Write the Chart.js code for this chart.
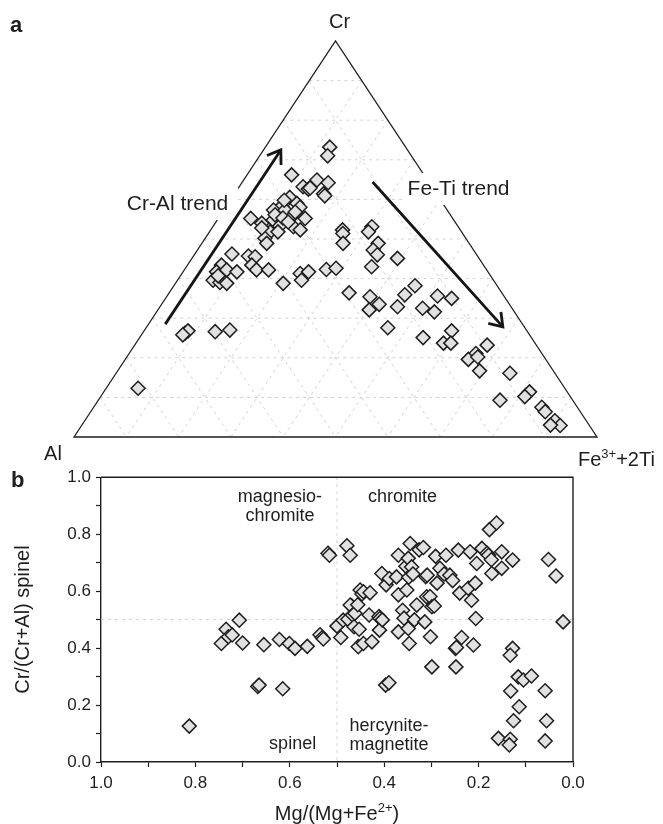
<!DOCTYPE html>
<html>
<head>
<meta charset="utf-8">
<script src="https://cdn.jsdelivr.net/npm/chart.js@4.4.1/dist/chart.umd.min.js"></script>
<style>
  html, body { margin: 0; padding: 0; background: #fff; }
  #wrap { position: relative; width: 663px; height: 824px; }
  #ternary { position: absolute; left: 0; top: 0; }
  #spinel { position: absolute; left: 0; top: 462px; }
</style>
</head>
<body>
<div id="wrap">
  <canvas id="ternary" width="663" height="470"></canvas>
  <canvas id="spinel" width="663" height="362"></canvas>
</div>
<script>
// ---- panel a: ternary Cr - Al - (Fe3+ + 2Ti), in percent ----
var terCr = [73.2, 71.0, 66.2, 64.9, 64.2, 63.2, 62.6, 62.9, 61.4, 60.9, 60.5, 59.0, 58.3, 58.0, 57.3,
  57.3, 55.6, 55.2, 55.2, 54.0, 54.8, 53.3, 53.1, 52.3, 51.8, 50.2, 48.9, 46.2, 45.7, 45.5,
  43.4, 41.7, 42.2, 41.7, 43.4, 42.2, 42.2, 39.6, 39.0, 38.8, 38.8, 41.3, 41.7, 39.6, 42.3,
  42.6, 26.2, 26.8, 26.6, 27.0, 12.3, 25.8, 56.1, 55.3, 54.3, 51.8, 52.8, 59.8, 56.8, 40.7,
  52.3, 51.4, 48.9, 53.1, 51.8, 48.9, 47.2, 46.0, 45.1, 43.0, 36.4, 35.4, 33.5, 32.1, 32.9,
  35.9, 38.2, 32.5, 31.6, 35.6, 35.0, 27.6, 25.1, 26.8, 23.7, 23.7, 23.2, 21.1, 19.6, 20.2,
  16.7, 16.1, 11.4, 10.2, 9.3, 7.5, 6.4, 4.1, 2.9, 3.0];
var terAl = [14.5, 16.0, 25.3, 21.1, 19.3, 24.6, 23.9, 23.4, 21.6, 21.6, 28.5, 27.9, 31.1, 27.8, 33.2,
  31.0, 30.6, 28.2, 38.6, 37.1, 34.5, 34.0, 31.5, 30.6, 36.6, 38.4, 38.7, 46.7, 43.8, 42.6,
  50.1, 51.9, 49.7, 48.0, 44.3, 44.0, 41.7, 53.6, 52.6, 51.4, 40.6, 36.1, 34.3, 36.7, 30.6,
  28.6, 65.7, 64.8, 59.7, 56.7, 81.6, 66.3, 33.5, 32.4, 31.9, 35.1, 37.7, 29.9, 29.3, 52.1,
  22.5, 22.9, 24.1, 16.5, 17.8, 17.4, 19.2, 19.0, 15.6, 21.6, 29.2, 25.7, 24.9, 27.5, 21.7,
  18.8, 15.7, 17.1, 15.3, 12.7, 10.3, 26.2, 20.7, 14.4, 17.5, 16.1, 9.4, 12.6, 14.8, 12.7,
  14.1, 8.6, 7.2, 8.7, 13.9, 6.8, 6.7, 6.0, 5.6, 7.4];
var terFe = [12.3, 13.0, 8.5, 14.0, 16.5, 12.2, 13.5, 13.7, 17.0, 17.5, 11.0, 13.1, 10.6, 14.2, 9.5,
  11.7, 13.8, 16.6, 6.2, 8.9, 10.7, 12.7, 15.4, 17.1, 11.6, 11.4, 12.4, 7.1, 10.5, 11.9,
  6.5, 6.4, 8.1, 10.3, 12.3, 13.8, 16.1, 6.8, 8.4, 9.8, 20.6, 22.6, 24.0, 23.7, 27.1,
  28.8, 8.1, 8.4, 13.7, 16.3, 6.1, 7.9, 10.4, 12.3, 13.8, 13.1, 9.5, 10.3, 13.9, 7.2,
  25.2, 25.7, 27.0, 30.4, 30.4, 33.7, 33.6, 35.0, 39.3, 35.4, 34.4, 38.9, 41.6, 40.4, 45.4,
  45.3, 46.1, 50.4, 53.1, 51.7, 54.7, 46.2, 54.2, 58.8, 58.8, 60.2, 67.4, 66.3, 65.6, 67.1,
  69.2, 75.3, 81.4, 81.1, 76.8, 85.7, 86.9, 89.9, 91.5, 89.6];
var terGrid = [10, 20, 30, 40, 50, 60, 70, 80, 90];
var terTrendLabels = ['Cr-Al trend', 'Fe-Ti trend'];
// trend arrows as [Cr, Al, Fe] tail -> head
var terArrowTails = [[28.5, 68.3, 3.2], [64.4, 10.7, 24.9]];
var terArrowHeads = [[72.5, 24.2, 3.3], [27.8, 4.1, 68.1]];

// ---- panel b: Cr# vs Mg# ----
var mgNum = [0.813, 0.745, 0.735, 0.730, 0.722, 0.707, 0.700, 0.655, 0.622, 0.601, 0.589, 0.563, 0.536, 0.531, 0.529,
  0.668, 0.665, 0.615, 0.519, 0.516, 0.479, 0.472,
  0.500, 0.492, 0.487, 0.477, 0.469, 0.472, 0.467, 0.462, 0.464, 0.456, 0.453, 0.451, 0.447, 0.444,
  0.430, 0.455, 0.444, 0.426, 0.432, 0.411, 0.409, 0.410, 0.404, 0.405, 0.396, 0.389, 0.374, 0.397,
  0.390, 0.370, 0.370, 0.370, 0.361, 0.358, 0.354, 0.352, 0.349, 0.345, 0.348, 0.349, 0.347, 0.342,
  0.339, 0.336, 0.331, 0.326, 0.317, 0.314, 0.312, 0.310, 0.309, 0.303, 0.299, 0.302, 0.299, 0.294,
  0.291, 0.288, 0.282, 0.273, 0.269, 0.261, 0.255, 0.249, 0.247, 0.248, 0.243, 0.240, 0.236, 0.222,
  0.218, 0.215, 0.211, 0.207, 0.206, 0.204, 0.193, 0.182, 0.179, 0.177, 0.173, 0.172, 0.162, 0.151,
  0.151, 0.128,
  0.128, 0.133, 0.116, 0.105, 0.088, 0.132, 0.114, 0.126, 0.158, 0.133, 0.135, 0.059, 0.056, 0.059,
  0.052, 0.036, 0.021];
var crNum = [0.126, 0.416, 0.466, 0.440, 0.446, 0.498, 0.418, 0.412, 0.430, 0.416, 0.399, 0.406, 0.447, 0.437, 0.432,
  0.265, 0.270, 0.257, 0.733, 0.726, 0.759, 0.726,
  0.477, 0.437, 0.498, 0.501, 0.548, 0.551, 0.516, 0.522, 0.475, 0.552, 0.466, 0.604, 0.590, 0.598,
  0.594, 0.405, 0.416, 0.422, 0.516, 0.511, 0.504, 0.463, 0.499, 0.662, 0.622, 0.644, 0.650, 0.270,
  0.278, 0.726, 0.457, 0.587, 0.533, 0.505, 0.687, 0.604, 0.715, 0.767, 0.649, 0.469, 0.416, 0.685,
  0.660, 0.499, 0.551, 0.745, 0.753, 0.492, 0.651, 0.580, 0.656, 0.581, 0.545, 0.440, 0.334, 0.548,
  0.722, 0.628, 0.680, 0.660, 0.726, 0.656, 0.637, 0.399, 0.402, 0.334, 0.744, 0.593, 0.437, 0.610,
  0.738, 0.568, 0.411, 0.628, 0.504, 0.697, 0.750, 0.733, 0.726, 0.816, 0.710, 0.662, 0.839, 0.738,
  0.680, 0.709,
  0.399, 0.375, 0.299, 0.288, 0.302, 0.249, 0.194, 0.145, 0.083, 0.080, 0.060, 0.250, 0.145, 0.074,
  0.711, 0.653, 0.492];
var bTickLabels = ['0.0', '0.2', '0.4', '0.6', '0.8', '1.0'];
var bDividers = [0.5];
var bRegionLabels = ['magnesio-', 'chromite', 'chromite', 'spinel', 'hercynite-', 'magnetite'];

// ---- styling / placement ----
var FONT = "'Liberation Sans', Arial, Helvetica, sans-serif";
var INK = '#1e1e1e';
var FILL = '#e1e1e1';
var GRIDC = '#d2d2d2';
Chart.defaults.font.family = FONT;
Chart.defaults.color = INK;

var TREND_POS = [{ x: 0.1008, y: 0.5732 }, { x: 0.6379, y: 0.6111 }];
var REGION_POS = [[0.621, 0.912], [0.621, 0.846], [0.361, 0.912], [0.594, 0.046], [0.390, 0.109], [0.390, 0.042]];

function ternXY(cr, al, fe) {
  return { x: 0.5 + (fe - al) / 200, y: cr / 100 };
}

function supText(ctx, parts, x, y, size, align) {
  var w = 0;
  parts.forEach(function (p) {
    ctx.font = (p[1] ? Math.round(size * 0.66) : size) + 'px ' + FONT;
    w += ctx.measureText(p[0]).width;
  });
  var cx = align === 'center' ? x - w / 2 : x;
  ctx.textAlign = 'left';
  ctx.textBaseline = 'alphabetic';
  parts.forEach(function (p) {
    ctx.font = (p[1] ? Math.round(size * 0.66) : size) + 'px ' + FONT;
    ctx.fillText(p[0], cx, p[1] ? y - size * 0.42 : y);
    cx += ctx.measureText(p[0]).width;
  });
}

function drawArrow(ctx, a, b) {
  ctx.beginPath();
  ctx.moveTo(a.x, a.y);
  ctx.lineTo(b.x, b.y);
  ctx.stroke();
  var ang = Math.atan2(b.y - a.y, b.x - a.x);
  var len = 15, spread = 0.6;
  ctx.beginPath();
  ctx.moveTo(b.x - len * Math.cos(ang - spread), b.y - len * Math.sin(ang - spread));
  ctx.lineTo(b.x, b.y);
  ctx.lineTo(b.x - len * Math.cos(ang + spread), b.y - len * Math.sin(ang + spread));
  ctx.stroke();
}

var ternaryDecor = {
  id: 'ternaryDecor',
  beforeDatasetsDraw: function (chart) {
    var ctx = chart.ctx;
    var sx = chart.scales.x, sy = chart.scales.y;
    function pt(cr, al, fe) {
      var p = ternXY(cr, al, fe);
      return { x: sx.getPixelForValue(p.x), y: sy.getPixelForValue(p.y) };
    }
    function seg(a, b) {
      ctx.beginPath();
      ctx.moveTo(a.x, a.y);
      ctx.lineTo(b.x, b.y);
      ctx.stroke();
    }
    ctx.save();
    // dashed 10 % grid
    ctx.strokeStyle = GRIDC;
    ctx.lineWidth = 1;
    ctx.setLineDash([3, 4]);
    terGrid.forEach(function (g) {
      var r = 100 - g;
      seg(pt(g, r, 0), pt(g, 0, r));
      seg(pt(r, g, 0), pt(0, g, r));
      seg(pt(r, 0, g), pt(0, r, g));
    });
    ctx.setLineDash([]);
    // triangle
    var A = pt(0, 100, 0), C = pt(100, 0, 0), F = pt(0, 0, 100);
    ctx.strokeStyle = INK;
    ctx.lineWidth = 1.3;
    ctx.beginPath();
    ctx.moveTo(A.x, A.y);
    ctx.lineTo(C.x, C.y);
    ctx.lineTo(F.x, F.y);
    ctx.closePath();
    ctx.stroke();
    // trend labels, knocked out of the edges
    ctx.font = '21px ' + FONT;
    ctx.textAlign = 'left';
    ctx.textBaseline = 'alphabetic';
    terTrendLabels.forEach(function (t, i) {
      var x = sx.getPixelForValue(TREND_POS[i].x), y = sy.getPixelForValue(TREND_POS[i].y);
      var w = ctx.measureText(t).width;
      ctx.fillStyle = '#fff';
      ctx.fillRect(x - 4, y - 22, w + 14, 32);
      ctx.fillStyle = INK;
      ctx.fillText(t, x, y);
    });
    // arrows
    ctx.strokeStyle = '#151515';
    ctx.lineWidth = 2.8;
    ctx.lineJoin = 'miter';
    terArrowTails.forEach(function (t, i) {
      var h = terArrowHeads[i];
      drawArrow(ctx, pt(t[0], t[1], t[2]), pt(h[0], h[1], h[2]));
    });
    // corner labels
    ctx.fillStyle = INK;
    ctx.font = '20px ' + FONT;
    ctx.textAlign = 'center';
    ctx.fillText('Cr', sx.getPixelForValue(0.5078), sy.getPixelForValue(1.032));
    ctx.fillText('Al', sx.getPixelForValue(-0.0402), sy.getPixelForValue(-0.058));
    supText(ctx, [['Fe', false], ['3+', true], ['+2Ti', false]],
      sx.getPixelForValue(0.9637), sy.getPixelForValue(-0.0732), 20, 'left');
    // panel letter
    ctx.font = 'bold 22px ' + FONT;
    ctx.textAlign = 'left';
    ctx.fillText('a', 10, 32);
    ctx.restore();
  }
};

new Chart(document.getElementById('ternary'), {
  type: 'scatter',
  data: {
    datasets: [{
      data: terCr.map(function (c, i) { return ternXY(c, terAl[i], terFe[i]); }),
      pointStyle: 'rectRot',
      pointRadius: 7,
      backgroundColor: FILL,
      borderColor: INK,
      borderWidth: 1.5,
      clip: false
    }]
  },
  options: {
    responsive: false,
    animation: false,
    events: [],
    layout: { padding: { left: 74, right: 66, top: 41, bottom: 33 } },
    plugins: { legend: { display: false }, tooltip: { enabled: false } },
    scales: {
      x: { type: 'linear', min: 0, max: 1, display: false },
      y: { type: 'linear', min: 0, max: 1, display: false }
    }
  },
  plugins: [ternaryDecor]
});

var spinelDecor = {
  id: 'spinelDecor',
  beforeDatasetsDraw: function (chart) {
    var ctx = chart.ctx, area = chart.chartArea;
    var sx = chart.scales.x, sy = chart.scales.y;
    ctx.save();
    // field boundaries
    ctx.strokeStyle = GRIDC;
    ctx.lineWidth = 1;
    ctx.setLineDash([3, 4]);
    bDividers.forEach(function (d) {
      var px = sx.getPixelForValue(d), py = sy.getPixelForValue(d);
      ctx.beginPath();
      ctx.moveTo(px, area.top);
      ctx.lineTo(px, area.bottom);
      ctx.moveTo(area.left, py);
      ctx.lineTo(area.right, py);
      ctx.stroke();
    });
    ctx.setLineDash([]);
    // top and right frame
    ctx.strokeStyle = INK;
    ctx.lineWidth = 1.4;
    ctx.beginPath();
    ctx.moveTo(area.left, area.top);
    ctx.lineTo(area.right, area.top);
    ctx.lineTo(area.right, area.bottom);
    ctx.stroke();
    // field names
    ctx.fillStyle = INK;
    ctx.font = '18px ' + FONT;
    ctx.textAlign = 'center';
    ctx.textBaseline = 'alphabetic';
    bRegionLabels.forEach(function (t, i) {
      ctx.fillText(t, sx.getPixelForValue(REGION_POS[i][0]), sy.getPixelForValue(REGION_POS[i][1]));
    });
    // x title
    supText(ctx, [['Mg/(Mg+Fe', false], ['2+', true], [')', false]],
      (area.left + area.right) / 2, sx.bottom + 18, 20, 'center');
    // panel letter
    ctx.font = 'bold 22px ' + FONT;
    ctx.textAlign = 'left';
    ctx.fillText('b', 11, 25);
    ctx.restore();
  }
};

function majorLabel(v) {
  var k = Math.round(v * 10);
  return k % 2 === 0 ? bTickLabels[k / 2] : '';
}

new Chart(document.getElementById('spinel'), {
  type: 'scatter',
  data: {
    datasets: [{
      data: mgNum.map(function (m, i) { return { x: m, y: crNum[i] }; }),
      pointStyle: 'rectRot',
      pointRadius: 7,
      backgroundColor: FILL,
      borderColor: INK,
      borderWidth: 1.5,
      clip: false
    }]
  },
  options: {
    responsive: false,
    animation: false,
    events: [],
    layout: { padding: { left: 11, right: 90, top: 15, bottom: 22 } },
    plugins: { legend: { display: false }, tooltip: { enabled: false } },
    scales: {
      x: {
        type: 'linear', reverse: true, min: 0, max: 1,
        afterFit: function (s) { s.height = 40; },
        grid: { drawOnChartArea: false, tickLength: 5, tickColor: INK, tickWidth: 1.2 },
        border: { color: INK, width: 1.4 },
        ticks: { stepSize: 0.1, autoSkip: false, maxRotation: 0, padding: 6, color: INK, font: { size: 17 }, callback: majorLabel }
      },
      y: {
        type: 'linear', min: 0, max: 1,
        afterFit: function (s) { s.width = 90; },
        grid: { drawOnChartArea: false, tickLength: 5, tickColor: INK, tickWidth: 1.2 },
        border: { color: INK, width: 1.4 },
        ticks: { stepSize: 0.1, autoSkip: false, padding: 5, color: INK, font: { size: 17 }, callback: majorLabel },
        title: { display: true, text: 'Cr/(Cr+Al) spinel', color: INK, font: { size: 20 }, padding: 0 }
      }
    }
  },
  plugins: [spinelDecor]
});
</script>
</body>
</html>
